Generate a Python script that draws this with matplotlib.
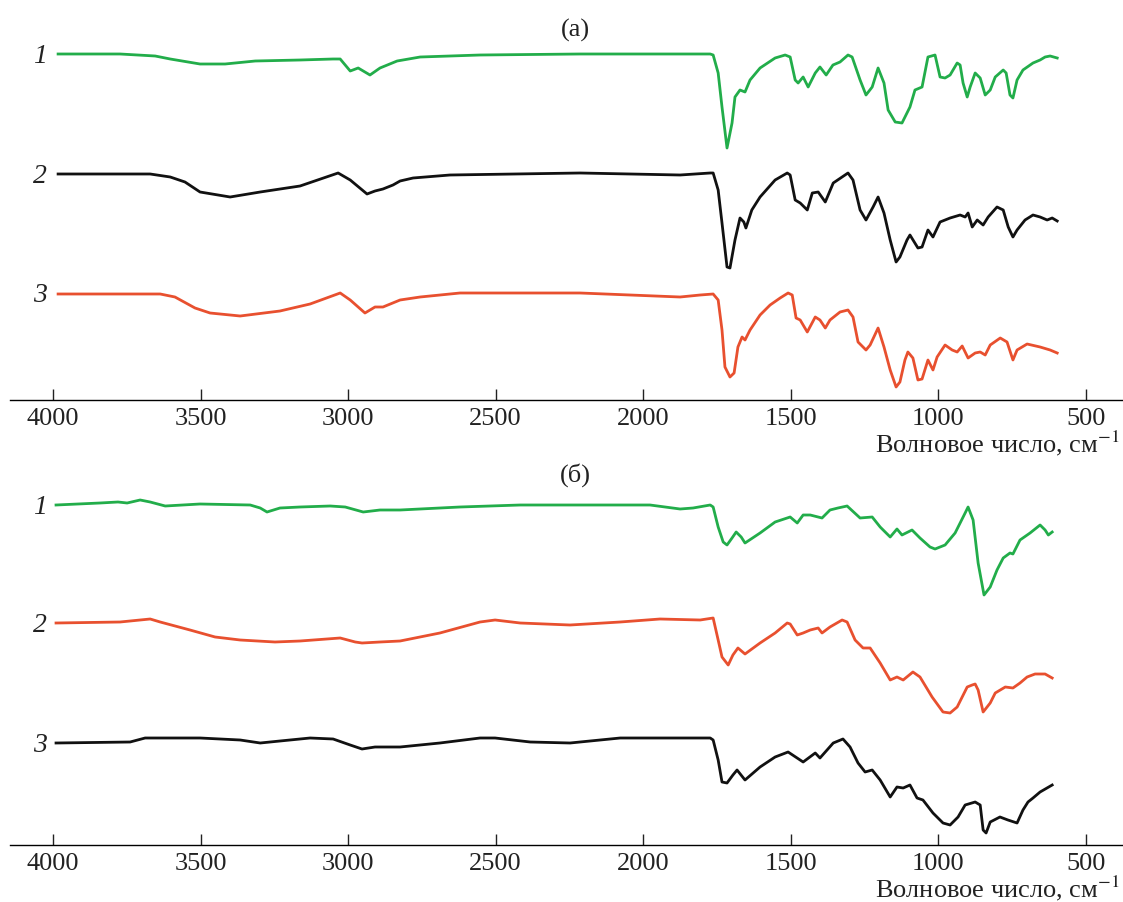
import matplotlib
matplotlib.use('Agg')
import matplotlib.pyplot as plt

plt.rcParams['font.family'] = ['Liberation Serif', 'DejaVu Serif']
plt.rcParams['mathtext.fontset'] = 'stix'

# ---- panel (а) -------------------------------------------------------------
WN_A1 = [3983, 3773, 3654, 3603, 3502, 3417, 3315, 3163, 3051, 3027, 2993, 2966,
         2926, 2892, 2834, 2756, 2553, 2214, 1773, 1763, 1746, 1733, 1716, 1699,
         1689, 1672, 1655, 1638, 1604, 1553, 1519, 1502, 1485, 1475, 1458, 1441,
         1417, 1401, 1380, 1357, 1333, 1306, 1292, 1265, 1245, 1224, 1204, 1184,
         1170, 1146, 1123, 1096, 1079, 1055, 1035, 1011, 994, 977, 960, 936, 926,
         916, 902, 892, 875, 858, 841, 824, 807, 780, 770, 757, 747, 733, 713,
         679, 655, 638, 621, 597]
T_A1 = [346, 346, 344, 341, 336, 336, 339, 340, 341, 341, 329, 332,
        325, 332, 339, 343, 345, 346, 346, 345, 327, 293, 252, 277,
        303, 310, 308, 320, 332, 342, 345, 343, 320, 317, 323, 313,
        327, 333, 325, 335, 338, 345, 343, 320, 305, 313, 332, 317,
        290, 278, 277, 293, 310, 313, 343, 345, 323, 322, 325, 337, 335,
        317, 303, 313, 327, 322, 305, 310, 323, 330, 327, 305, 302, 320, 330,
        337, 340, 343, 344, 342]

WN_A2 = [3983, 3671, 3603, 3553, 3502, 3400, 3298, 3163, 3034, 2993, 2936, 2909,
         2882, 2848, 2824, 2780, 2655, 2214, 1875, 1773, 1763, 1746, 1733, 1716,
         1706, 1689, 1672, 1659, 1652, 1632, 1604, 1553, 1512, 1502, 1485, 1468,
         1444, 1427, 1407, 1383, 1356, 1306, 1289, 1265, 1245, 1221, 1204, 1184,
         1163, 1143, 1130, 1106, 1096, 1069, 1055, 1035, 1018, 994, 960, 926, 909,
         899, 885, 868, 848, 831, 801, 780, 763, 747, 733, 706, 679, 655, 631,
         614, 597]
T_A2 = [226, 226, 223, 218, 208, 203, 208, 214, 227, 220, 206, 209,
        211, 215, 219, 222, 225, 227, 225, 227, 227, 210, 177, 133,
        132, 160, 182, 178, 172, 190, 203, 220, 227, 225, 200, 197,
        190, 207, 208, 198, 217, 227, 220, 190, 180, 193, 203, 187,
        160, 138, 143, 160, 165, 152, 153, 170, 163, 178, 182, 185, 183,
        187, 173, 180, 175, 183, 193, 190, 173, 163, 170, 180, 185, 183, 180,
        182, 179]

WN_A3 = [3983, 3637, 3587, 3519, 3468, 3366, 3231, 3129, 3027, 2993, 2943, 2909,
         2882, 2824, 2756, 2621, 2214, 1875, 1807, 1763, 1746, 1733, 1723, 1706,
         1692, 1679, 1665, 1655, 1638, 1604, 1570, 1536, 1509, 1495, 1482, 1468,
         1444, 1417, 1401, 1383, 1367, 1333, 1306, 1289, 1272, 1245, 1231, 1204,
         1184, 1163, 1143, 1130, 1113, 1103, 1086, 1069, 1055, 1035, 1018, 1004,
         977, 953, 936, 919, 899, 875, 858, 841, 824, 790, 767, 747, 733, 699,
         655, 621, 597]
T_A3 = [106, 106, 103, 92, 87, 84, 89, 96, 107, 100, 87, 93,
        93, 100, 103, 107, 107, 103, 105, 106, 100, 70, 33, 23,
        27, 53, 63, 60, 70, 85, 95, 102, 107, 105, 82, 80,
        68, 83, 80, 72, 80, 88, 90, 83, 58, 50, 55, 72,
        53, 30, 13, 18, 40, 48, 42, 20, 21, 40, 30, 43,
        55, 50, 48, 54, 42, 47, 48, 45, 55, 62, 58, 40, 50, 56,
        53, 50, 47]

# ---- panel (б) -------------------------------------------------------------
WN_B1 = [3990, 3841, 3780, 3749, 3705, 3671, 3620, 3502, 3332, 3298, 3275, 3231,
         3163, 3061, 3010, 2949, 2892, 2824, 2621, 2417, 2078, 1977, 1875, 1831,
         1773, 1763, 1746, 1729, 1716, 1699, 1685, 1668, 1655, 1604, 1553, 1502,
         1478, 1458, 1434, 1394, 1367, 1340, 1309, 1265, 1224, 1197, 1163, 1140,
         1123, 1089, 1062, 1028, 1011, 977, 943, 909, 899, 882, 865, 845, 824,
         801, 780, 757, 747, 723, 689, 655, 638, 627, 614]
T_B1 = [340, 342, 343, 342, 345, 343, 339, 341, 340, 337, 333, 337,
        338, 339, 338, 333, 335, 335, 338, 340, 340, 340, 336, 337,
        340, 338, 318, 303, 300, 307, 313, 308, 302, 312, 323, 328,
        322, 330, 330, 327, 335, 337, 339, 327, 328, 318, 308, 316,
        310, 315, 307, 298, 296, 300, 312, 332, 338, 325, 282, 250, 258,
        275, 287, 292, 291, 305, 312, 320, 315, 310, 313]

WN_B2 = [3990, 3773, 3671, 3637, 3536, 3451, 3366, 3248, 3163, 3027, 2976, 2953,
         2892, 2824, 2689, 2553, 2502, 2417, 2248, 2078, 1943, 1807, 1763, 1746,
         1733, 1712, 1696, 1679, 1655, 1604, 1553, 1512, 1502, 1478, 1458, 1434,
         1407, 1394, 1367, 1326, 1309, 1282, 1255, 1231, 1197, 1163, 1140, 1119,
         1086, 1062, 1021, 984, 960, 936, 902, 885, 875, 865, 848, 824, 807,
         773, 747, 723, 699, 672, 638, 614]
T_B2 = [222, 223, 226, 223, 215, 208, 205, 203, 204, 207, 203, 202,
        203, 204, 212, 223, 225, 222, 220, 223, 226, 225, 227, 205,
        188, 180, 190, 197, 191, 202, 212, 222, 221, 210, 212, 215,
        217, 212, 218, 225, 223, 205, 197, 197, 182, 165, 168, 165,
        173, 168, 148, 133, 132, 138, 158, 160, 161, 155, 133, 142, 152,
        158, 157, 162, 168, 171, 171, 167]

WN_B3 = [3990, 3739, 3688, 3502, 3366, 3298, 3231, 3129, 3051, 2993, 2953, 2909,
         2824, 2689, 2553, 2502, 2383, 2248, 2078, 1875, 1773, 1763, 1746, 1733,
         1716, 1696, 1682, 1655, 1604, 1553, 1509, 1458, 1417, 1401, 1356, 1323,
         1299, 1272, 1248, 1224, 1197, 1163, 1140, 1119, 1096, 1072, 1052, 1018,
         984, 960, 933, 909, 875, 858, 848, 838, 824, 791, 764, 733, 713, 696,
         679, 655, 614]
T_B3 = [102, 103, 107, 107, 105, 102, 104, 107, 106, 100, 96, 98,
        98, 102, 107, 107, 103, 102, 107, 107, 107, 105, 85, 63,
        62, 70, 75, 65, 78, 88, 93, 83, 92, 87, 102, 106,
        98, 82, 73, 75, 65, 48, 58, 57, 60, 47, 45, 32,
        22, 20, 28, 40, 43, 40, 15, 12, 23, 28, 25, 22, 35, 43,
        47, 53, 60]

GREEN = '#22ad4a'
RED = '#e8502f'
BLACK = '#111111'

PANELS = [
    ('(а)', [(WN_A1, T_A1, GREEN, '1'), (WN_A2, T_A2, BLACK, '2'), (WN_A3, T_A3, RED, '3')]),
    ('(б)', [(WN_B1, T_B1, GREEN, '1'), (WN_B2, T_B2, RED, '2'), (WN_B3, T_B3, BLACK, '3')]),
]

W, H = 1123, 902
fig = plt.figure(figsize=(W / 100, H / 100), dpi=100)

# pixel rows of the axis lines of the two panels
axis_rows = [400, 845]
for (title, curves), row in zip(PANELS, axis_rows):
    ax = fig.add_axes([10 / W, 1 - row / H, (W - 10) / W, 360 / H])
    for wn, t, color, num in curves:
        ax.plot(wn, t, color=color, lw=2.0, solid_joinstyle='round')
        ax.text(4022, t[0] - 2, num, ha='right', va='center',
                fontsize=20, style='italic', color='#222222')
    ax.set_xlim(4146, 374)
    ax.set_ylim(0, 360)
    ax.set_xticks([4000, 3500, 3000, 2500, 2000, 1500, 1000, 500])
    ax.tick_params(axis='x', direction='in', length=8, width=1,
                   labelsize=19, pad=6, colors='#222222')
    ax.set_yticks([])
    for side in ['left', 'right', 'top']:
        ax.spines[side].set_visible(False)
    ax.spines['bottom'].set_linewidth(1)
    ax.patch.set_alpha(0)

    fig.text(575 / W, 1 - (row - 370) / H, title, ha='center', va='center',
             fontsize=19, color='#222222')
    fig.text(1120 / W, 1 - (row + 43) / H, 'Волновое число, см$^{-1}$',
             ha='right', va='center', fontsize=19, color='#222222')

fig.savefig('out.png', dpi=100)
